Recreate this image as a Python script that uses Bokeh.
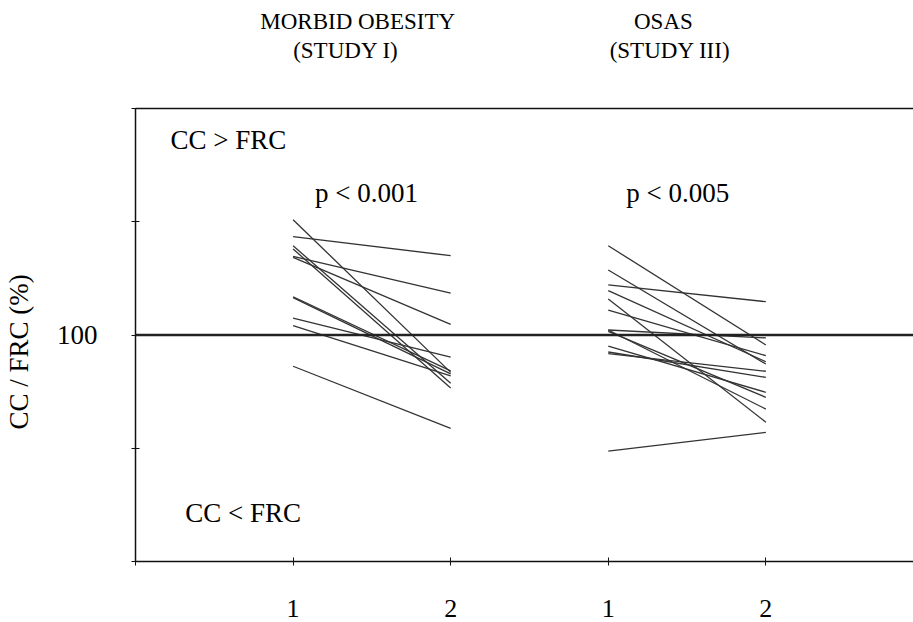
from bokeh.plotting import figure
from bokeh.models import Range1d, LinearAxis, FixedTicker, Span, Label
from bokeh.embed import file_html
from bokeh.resources import INLINE

# ---- data ----
group_x = [1, 2, 3, 4]
x_tick_positions = [0, 1, 2, 3, 4]
x_tick_labels = ["", "1", "2", "1", "2"]
y_tick_positions = [0, 50, 100, 150, 200]
y_tick_labels = ["", "", "100", "", ""]

study1_pre = [150.9, 143.4, 139.4, 138.0, 134.7, 134.3, 116.9, 116.5, 107.4, 104.1, 86.2]
study1_post = [83.5, 135.0, 78.7, 76.6, 118.5, 104.7, 84.2, 82.8, 90.2, 82.0, 58.8]
study3_pre = [139.4, 128.7, 122.1, 119.6, 115.9, 111.0, 102.2, 102.2, 101.6, 95.1, 92.5, 91.8, 48.7]
study3_post = [95.6, 87.2, 114.7, 88.2, 61.5, 90.9, 98.7, 67.3, 72.5, 74.7, 81.3, 84.0, 57.0]

reference_value = 100
title_line1 = ["MORBID OBESITY", "OSAS"]
title_line1_x = [1.41, 3.35]
title_line2 = ["(STUDY I)", "(STUDY III)"]
title_line2_x = [1.335, 3.392]
p_values = ["p < 0.001", "p < 0.005"]
region_labels = ["CC > FRC", "CC < FRC"]
y_label = "CC / FRC (%)"

FONT = "Liberation Serif"

p = figure(width=913, height=622, output_backend="svg", toolbar_location=None,
           x_range=Range1d(0, 4.937), y_range=Range1d(0, 200),
           min_border_left=133, min_border_right=0, min_border_top=108,
           min_border_bottom=61, x_axis_location=None, y_axis_location=None)
p.outline_line_color = None
p.xgrid.visible = False
p.ygrid.visible = False
p.background_fill_color = "white"
p.border_fill_color = "white"


def no_minor(ax):
    ax.minor_tick_in = 0
    ax.minor_tick_out = 0


# left axis
ya = LinearAxis(ticker=FixedTicker(ticks=y_tick_positions),
                major_label_overrides={t: l for t, l in zip(y_tick_positions, y_tick_labels)})
ya.axis_label = y_label + "\u00a0" * 5
ya.axis_label_text_font = FONT
ya.axis_label_text_font_style = "normal"
ya.axis_label_text_font_size = "27px"
ya.axis_label_text_color = "black"
ya.axis_label_standoff = 20
ya.major_label_text_font = FONT
ya.major_label_text_font_size = "27px"
ya.major_label_text_color = "black"
ya.major_label_text_baseline = "alphabetic"
ya.major_label_standoff = 34
ya.major_tick_in = 4
ya.major_tick_out = 4
no_minor(ya)
ya.axis_line_width = 1.5
ya.axis_line_color = "#111111"
ya.major_tick_line_color = "#111111"
p.add_layout(ya, "left")

# bottom axis
xa = LinearAxis(ticker=FixedTicker(ticks=x_tick_positions),
                major_label_overrides={t: l for t, l in zip(x_tick_positions, x_tick_labels)})
xa.major_label_text_font = FONT
xa.major_label_text_font_size = "26px"
xa.major_label_text_color = "black"
xa.major_label_text_line_height = 0.8
xa.major_label_standoff = 34
xa.major_tick_in = 4
xa.major_tick_out = 4
no_minor(xa)
xa.axis_line_width = 1.5
xa.axis_line_color = "#111111"
xa.major_tick_line_color = "#111111"
p.add_layout(xa, "below")

# top frame line carrying the second title row
ta = LinearAxis(ticker=FixedTicker(ticks=title_line2_x),
                major_label_overrides={t: l for t, l in zip(title_line2_x, title_line2)})
ta.major_tick_in = 0
ta.major_tick_out = 0
no_minor(ta)
ta.major_tick_line_color = None
ta.major_label_text_font = FONT
ta.major_label_text_font_size = "23px"
ta.major_label_text_color = "black"
ta.major_label_standoff = 46
ta.axis_line_width = 1.5
ta.axis_line_color = "#111111"
p.add_layout(ta, "above")

# first title row
ta2 = LinearAxis(ticker=FixedTicker(ticks=title_line1_x),
                 major_label_overrides={t: l for t, l in zip(title_line1_x, title_line1)})
ta2.major_tick_in = 0
ta2.major_tick_out = 0
no_minor(ta2)
ta2.major_tick_line_color = None
ta2.axis_line_color = None
ta2.major_label_text_font = FONT
ta2.major_label_text_font_size = "23px"
ta2.major_label_text_color = "black"
ta2.major_label_standoff = 1
p.add_layout(ta2, "above")

# reference line at 100
p.add_layout(Span(location=reference_value, dimension="width",
                  line_color="#222222", line_width=2.5))

# individual subject lines
xs, ys = [], []
for a, b in zip(study1_pre, study1_post):
    xs.append([group_x[0], group_x[1]])
    ys.append([a, b])
for a, b in zip(study3_pre, study3_post):
    xs.append([group_x[2], group_x[3]])
    ys.append([a, b])
p.multi_line(xs, ys, line_color="#333333", line_width=1.3)


def add_label(x, y, text, size="27px", align="left"):
    p.add_layout(Label(x=x, y=y, text=text, text_font=FONT, text_font_size=size,
                       text_color="black", text_align=align, text_baseline="middle"))


add_label(0.222, 185.9, region_labels[0])
add_label(0.316, 21.6, region_labels[1])
add_label(1.139, 162.5, p_values[0])
add_label(3.114, 162.5, p_values[1])

open("out.html", "w").write(file_html(p, INLINE))
